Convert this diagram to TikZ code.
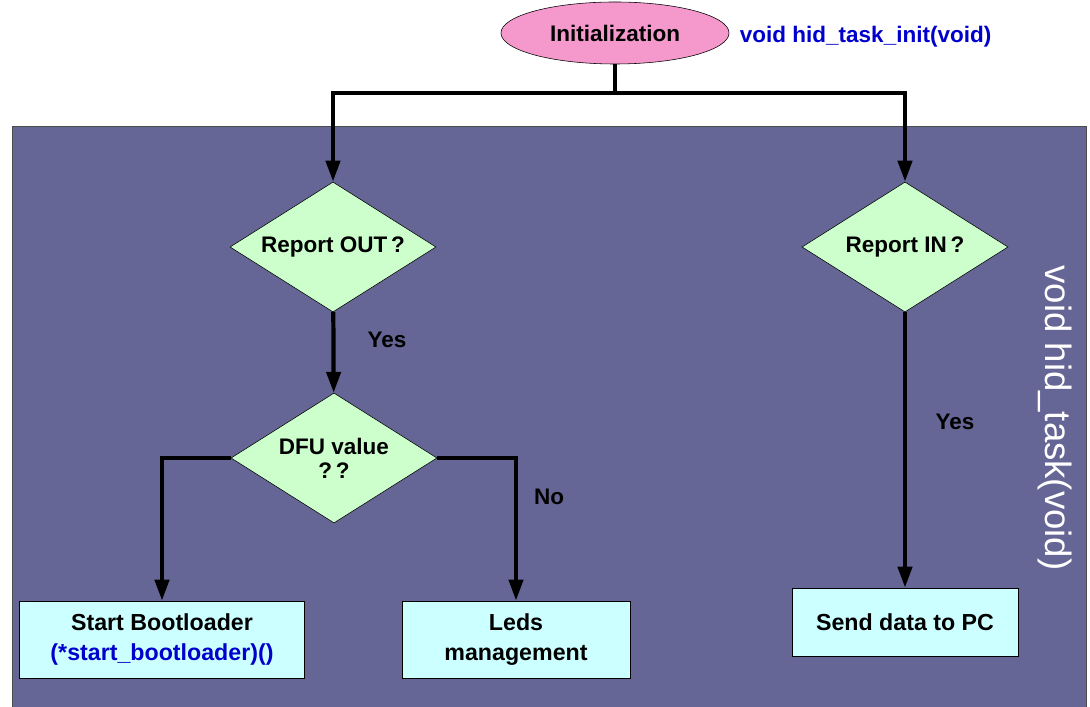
\documentclass[tikz,border=0pt]{standalone}
\usepackage{fontspec}
\setmainfont{Liberation Sans}
\usetikzlibrary{shapes.geometric,arrows.meta}
\definecolor{panelpurple}{RGB}{102,102,150}
\definecolor{decgreen}{RGB}{204,255,204}
\definecolor{boxcyan}{RGB}{204,255,255}
\definecolor{initpink}{RGB}{245,153,204}
\definecolor{codeblue}{RGB}{0,0,204}
\tikzset{
  decision/.style={diamond, draw=black, thin, fill=decgreen, aspect=1.58, inner sep=0pt,
    minimum width=5.15cm, minimum height=3.25cm, align=center,
    font=\fontsize{16}{19}\selectfont\bfseries},
  action/.style={rectangle, draw=black, thin, fill=boxcyan, align=center,
    font=\fontsize{16.5}{21}\selectfont\bfseries},
  link/.style={line width=3pt, line join=miter},
  flow/.style={link, -{Triangle[width=10pt,length=15pt]}},
  tag/.style={font=\fontsize{16}{19}\selectfont\bfseries}
}
\begin{document}
\begin{tikzpicture}[x=0.025cm, y=-0.025cm]
  \useasboundingbox (0,0) rectangle (1090,707);
  \fill[white] (0,0) rectangle (1090,707);
  \clip (0,0) rectangle (1090,707);
  % task panel
  \draw[fill=panelpurple, draw=black!70, thin] (12,126) rectangle (1086,720);
  \node[rotate=-90, text=white, font=\fontsize{26}{30}\selectfont] (taskname) at (1055,418) {void hid\_task(void)};
  % init
  \node[ellipse, draw=black, thin, fill=initpink, inner sep=0pt, minimum width=5.7cm, minimum height=1.55cm,
    font=\fontsize{16}{19}\selectfont\bfseries] (init) at (615,33) {Initialization};
  \node[anchor=west, text=codeblue, font=\fontsize{16}{19}\selectfont\bfseries] (initname) at (735,37) {void hid\_task\_init(void)};
  \coordinate (split) at (615,93);
  % decisions
  \node[decision] (rout) at (333,247) {Report OUT\,?};
  \node[decision] (rin) at (905,247) {Report IN\,?};
  \node[decision] (dfu) at (334,458) {DFU value\\[-2pt]?\,?};
  % actions
  \node[action, minimum width=7.125cm, minimum height=1.925cm] (boot) at (162,639.5)
    {Start Bootloader\\\textcolor{codeblue}{(*start\_bootloader)()}};
  \node[action, minimum width=5.7cm, minimum height=1.925cm] (leds) at (516,639.5) {Leds\\management};
  \node[action, minimum width=5.65cm, minimum height=1.7cm] (send) at (905,622) {Send data to PC};
  % connectors
  \draw[link] (init) -- (split);
  \draw[flow] (split) -| (rout.north);
  \draw[flow] (split) -| (rin.north);
  \draw[flow] (rout) -- (dfu);
  \draw[flow] (dfu.west) -| (boot.north);
  \draw[flow] (dfu.east) -| (leds.north);
  \draw[flow] (rin) -- (send);
  % labels
  \node[tag] (yesout) at (387,340) {Yes};
  \node[tag] (nodfu) at (549,497) {No};
  \node[tag] (yesin) at (955,422) {Yes};
\end{tikzpicture}
\end{document}
